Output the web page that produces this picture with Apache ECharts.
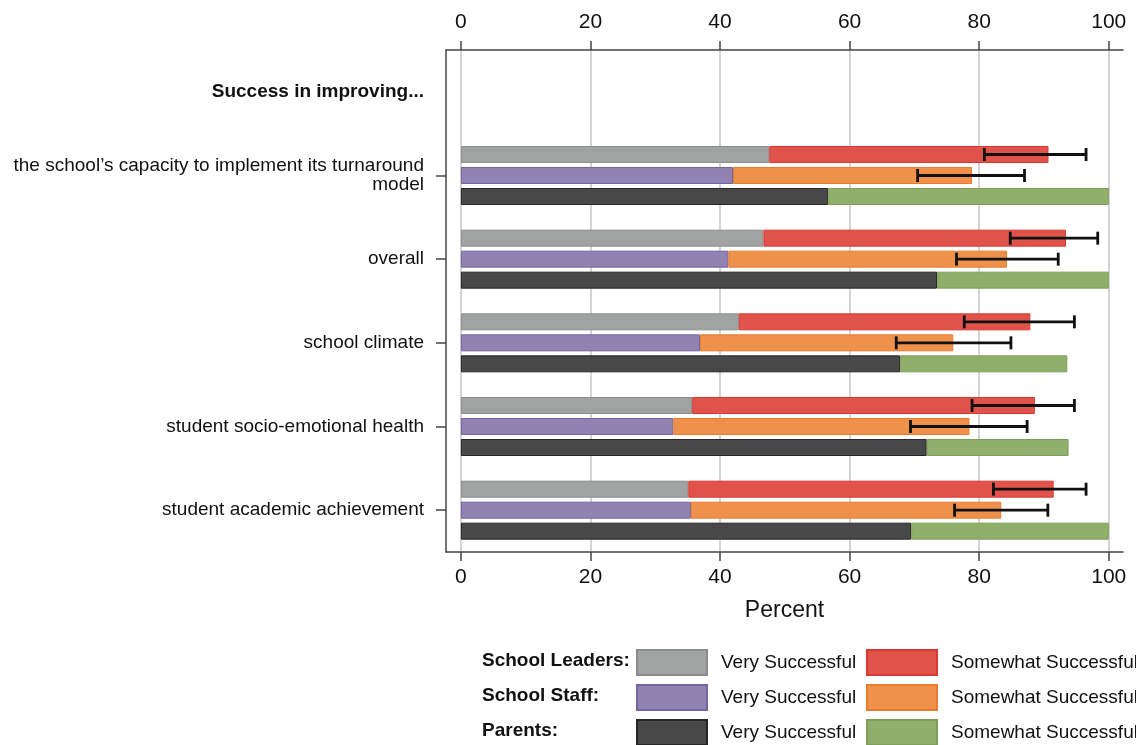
<!DOCTYPE html>
<html>
<head>
<meta charset="utf-8">
<title>Success in improving</title>
<script src="https://cdn.jsdelivr.net/npm/echarts@6/dist/echarts.min.js"></script>
<style>
  html, body { margin: 0; padding: 0; background: #fff; }
  #chart { width: 1136px; height: 745px; }
</style>
</head>
<body>
<div id="chart"></div>
<script>
// Row labels (first row is the group heading, drawn without bars)
const categories = [
  'Success in improving...',
  'the school\u2019s capacity to implement its turnaround\nmodel',
  'overall',
  'school climate',
  'student socio-emotional health',
  'student academic achievement'
];

// Percent "very successful" / "somewhat successful" per respondent group
const leadersVery     = [47.6, 46.7, 42.9, 35.7, 35.1];
const leadersSomewhat = [43.1, 46.7, 45.0, 52.9, 56.4];
const staffVery       = [42.0, 41.3, 36.9, 32.8, 35.5];
const staffSomewhat   = [36.9, 43.0, 39.1, 45.7, 47.9];
const parentsVery     = [56.7, 73.5, 67.8, 71.9, 69.5];
const parentsSomewhat = [43.3, 26.5, 25.8, 21.9, 30.5];

// Confidence intervals on the combined (very + somewhat) share
const leadersLow  = [80.8, 84.8, 77.7, 78.9, 82.2];
const leadersHigh = [96.5, 98.3, 94.7, 94.7, 96.5];
const staffLow    = [70.5, 76.5, 67.2, 69.4, 76.2];
const staffHigh   = [87.0, 92.2, 84.9, 87.4, 90.6];

const tickValues = [0, 20, 40, 60, 80, 100];

const FONT = '"Liberation Sans", Arial, sans-serif';
const BAR_W = 17;
const BAR_GAP = 4;

// the heading row carries no bars
const withHeading = arr => ['-'].concat(arr);

function barSeries(name, stack, values, color, border) {
  return {
    name: name,
    type: 'bar',
    stack: stack,
    data: withHeading(values),
    barWidth: BAR_W,
    barGap: (BAR_GAP / BAR_W * 100) + '%',
    itemStyle: { color: color, borderColor: border, borderWidth: 1 },
    emphasis: { disabled: true }
  };
}

function errorSeries(low, high, offsetPx) {
  const data = low.map((lo, i) => [i + 1, lo, high[i]]);
  return {
    type: 'custom',
    z: 10,
    silent: true,
    encode: { y: 0, x: [1, 2] },
    data: data,
    renderItem: function (params, api) {
      const cat = api.value(0);
      const p1 = api.coord([api.value(1), cat]);
      const p2 = api.coord([api.value(2), cat]);
      const y = p1[1] + offsetPx;
      const cap = 6.5;
      const style = { stroke: '#111', lineWidth: 2.8 };
      return {
        type: 'group',
        children: [
          { type: 'line', shape: { x1: p1[0], y1: y, x2: p2[0], y2: y }, style: style },
          { type: 'line', shape: { x1: p1[0], y1: y - cap, x2: p1[0], y2: y + cap }, style: style },
          { type: 'line', shape: { x1: p2[0], y1: y - cap, x2: p2[0], y2: y + cap }, style: style }
        ]
      };
    }
  };
}

const series = [
  barSeries('School Leaders: Very Successful', 'leaders', leadersVery, '#A0A3A2', '#8A8D8C'),
  barSeries('School Leaders: Somewhat Successful', 'leaders', leadersSomewhat, '#E0534A', '#D83A31'),
  barSeries('School Staff: Very Successful', 'staff', staffVery, '#9083B2', '#7464A2'),
  barSeries('School Staff: Somewhat Successful', 'staff', staffSomewhat, '#ED914B', '#E87B2C'),
  barSeries('Parents: Very Successful', 'parents', parentsVery, '#484848', '#262626'),
  barSeries('Parents: Somewhat Successful', 'parents', parentsSomewhat, '#8FAF6A', '#7E9F59'),
  errorSeries(leadersLow, leadersHigh, -(BAR_W + BAR_GAP)),
  errorSeries(staffLow, staffHigh, 0)
];

// legend: one entry per box, laid out as a 3 x 2 grid
const legendRows = [
  { label: 'School Leaders:', top: 649 },
  { label: 'School Staff:', top: 684 },
  { label: 'Parents:', top: 719 }
];
const legendCols = [
  { text: 'Very Successful', left: 636 },
  { text: 'Somewhat Successful', left: 866 }
];
const legends = [];
const graphics = [];
legendRows.forEach((row, r) => {
  legendCols.forEach((col, c) => {
    const name = series[r * 2 + c].name;
    legends.push({
      data: [{ name: name, icon: 'rect' }],
      left: col.left,
      top: row.top,
      padding: 0,
      itemWidth: 70,
      itemHeight: 25,
      selectedMode: false,
      formatter: () => col.text,
      textStyle: { fontFamily: FONT, fontSize: 19, color: '#111', padding: [0, 0, 0, 9] }
    });
  });
  graphics.push({
    type: 'text',
    left: 482,
    top: row.top + 2,
    style: { text: row.label, font: 'bold 19px ' + FONT, fill: '#111' }
  });
});

const axisColor = '#444';
const xCommon = {
  type: 'value',
  min: -2.3,
  max: 102.2,
  axisLine: { show: true, onZero: false, lineStyle: { color: axisColor, width: 1.5 } },
  axisTick: { show: true, length: 9, customValues: tickValues, lineStyle: { color: axisColor, width: 1.5 } },
  axisLabel: { customValues: tickValues, fontFamily: FONT, fontSize: 21, color: '#111' }
};

const option = {
  animation: false,
  backgroundColor: '#fff',
  grid: { left: 446, right: 13, top: 50, bottom: 193, containLabel: false },
  legend: legends,
  graphic: graphics,
  xAxis: [
    Object.assign({}, xCommon, {
      position: 'bottom',
      name: 'Percent',
      nameLocation: 'middle',
      nameGap: 47,
      nameTextStyle: { fontFamily: FONT, fontSize: 23, color: '#111' },
      axisLabel: Object.assign({}, xCommon.axisLabel, { margin: 15 }),
      splitLine: { show: true, lineStyle: { color: '#D4D4D4', width: 2 } }
    }),
    Object.assign({}, xCommon, {
      position: 'top',
      axisLabel: Object.assign({}, xCommon.axisLabel, { margin: 17 }),
      splitLine: { show: false }
    })
  ],
  yAxis: {
    type: 'category',
    inverse: true,
    data: categories,
    axisLine: { show: true, onZero: false, lineStyle: { color: axisColor, width: 1.5 } },
    axisTick: {
      show: true,
      alignWithLabel: true,
      length: 10,
      interval: idx => idx !== 0,
      lineStyle: { color: axisColor, width: 1.5 }
    },
    axisLabel: {
      margin: 22,
      fontFamily: FONT,
      fontSize: 19,
      color: '#111',
      lineHeight: 19,
      align: 'right',
      formatter: (v, i) => (i === 0 ? '{h|' + v + '}' : v),
      rich: {
        h: { fontFamily: FONT, fontSize: 19, fontWeight: 'bold', color: '#111' }
      }
    }
  },
  series: series
};

const chart = echarts.init(document.getElementById('chart'), null, { renderer: 'canvas' });
chart.setOption(option);
</script>
</body>
</html>
